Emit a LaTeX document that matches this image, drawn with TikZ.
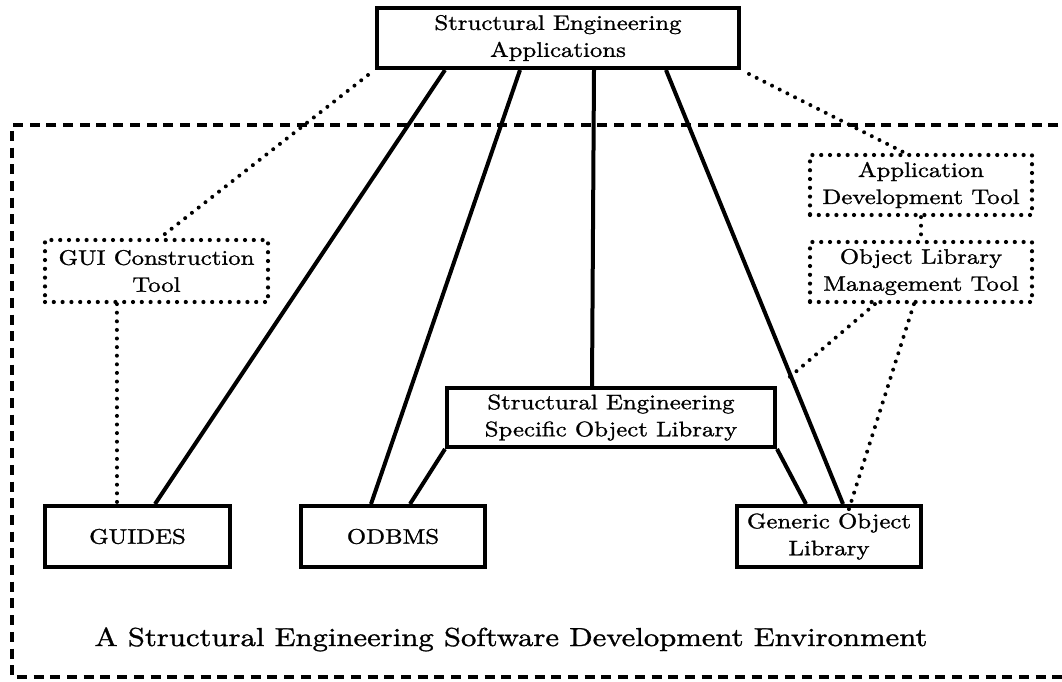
\documentclass[tikz,border=0pt]{standalone}
\usepackage{fontspec}
\setmainfont{lmroman10-regular.otf}[FakeStretch=1.18, FakeBold=1.2]
\usetikzlibrary{calc}
\begin{document}
\begin{tikzpicture}[x=1pt,y=-1pt,
  boxtext/.style={font=\fontsize{21}{27}\selectfont, align=center, inner sep=0pt},
  solidbox/.style={boxtext, draw, rectangle, line width=4pt, line join=miter},
  dotbox/.style={boxtext, draw, rectangle, line width=4.2pt, line cap=round, dash pattern=on 0pt off 8.8pt},
  link/.style={line width=4pt},
  dotlink/.style={line width=4pt, line cap=round, dash pattern=on 0pt off 8.6pt},
  envframe/.style={line width=3.6pt, dash pattern=on 10pt off 6.7pt}]
\useasboundingbox (0,0) rectangle (1062,681);
\clip (0,0) rectangle (1062,681);

% environment frame (open on the right)
\draw[envframe] (1075,125) -- (12,125) -- (12,677) -- (1075,677);

% components
\node[solidbox, minimum width=362pt, minimum height=60pt] (apps) at (558,38)
  {Structural Engineering\\Applications};
\node[dotbox, minimum width=223pt, minimum height=62pt] (gui) at (156.5,271)
  {GUI Construction\\Tool};
\node[dotbox, minimum width=222pt, minimum height=60pt] (adt) at (921,185)
  {Application\\Development Tool};
\node[dotbox, minimum width=222pt, minimum height=60pt] (olmt) at (921,272)
  {Object Library\\Management Tool};
\node[solidbox, minimum width=328pt, minimum height=59pt] (seslib) at (611,417.5)
  {Structural Engineering\\Specific Object Library};
\node[solidbox, minimum width=185pt, minimum height=61pt] (guides) at (137.5,536.5)
  {GUIDES};
\node[solidbox, minimum width=184pt, minimum height=61pt] (odbms) at (393,536.5)
  {ODBMS};
\node[solidbox, minimum width=184pt, minimum height=61pt] (generic) at (829,536.5)
  {Generic Object\\Library};

\node[font=\fontsize{26}{32}\selectfont, anchor=base, inner sep=0pt] (title) at (511,646)
  {A Structural Engineering Software Development Environment};

% solid connections
\draw[link] ([xshift=70pt]apps.south west) -- ([xshift=112pt]guides.north west);
\draw[link] ([xshift=145pt]apps.south west) -- ([xshift=72pt]odbms.north west);
\draw[link] ([xshift=219pt]apps.south west) -- ([xshift=147pt]seslib.north west);
\draw[link] ([xshift=291pt]apps.south west) -- ([xshift=108pt]generic.north west);
\draw[link] (seslib.south west) -- ([xshift=111pt]odbms.north west);
\draw[link] (seslib.south east) -- ([xshift=71pt]generic.north west);

% tool relations
\draw[dotlink] ([xshift=-7pt,yshift=-5pt]apps.south west) -- ([xshift=117pt]gui.north west);
\draw[dotlink] ([xshift=8pt,yshift=-4pt]apps.south east) -- ([xshift=97pt]adt.north west);
\draw[dotlink] (adt.south) -- (olmt.north);
\draw[dotlink] ([xshift=74pt]gui.south west) -- ([xshift=74pt]guides.north west);
\draw[dotlink] ([xshift=67pt]olmt.south west) -- ([xshift=8pt,yshift=5pt]seslib.north east);
\draw[dotlink] ([xshift=106pt]olmt.south west) -- ([xshift=113pt,yshift=-8pt]generic.north west);
\end{tikzpicture}
\end{document}
